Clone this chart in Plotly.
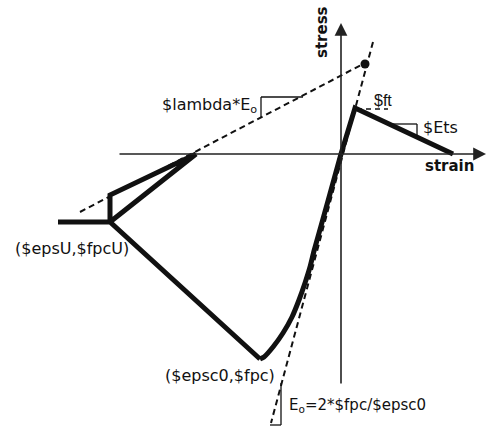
import plotly.graph_objects as go

# Diagram units: strain to the right, stress upward, origin at axes crossing
# Compression envelope: residual plateau -> (epsU,fpcU) -> (epsc0,fpc)
env_strain = [-283, -231, -81]
env_stress = [-68, -68, -205]
# Rise from (epsc0,fpc) back to origin
par_strain = [-81, -77, -68, -58, -49, -42, -36, -31, -27, -13, 0]
par_stress = [-205, -203, -193, -179, -163, -146, -129, -113, -97, -47, 0]
# Tension branch: origin -> ft peak -> zero stress
ten_strain = [0, 14, 112]
ten_stress = [0, 46, 0]
# Unloading / reloading from (epsU,fpcU)
unl_strain = [-145, -231, -231, -145]
unl_stress = [0, -68, -41, 0]
# Dashed reference lines
lam_strain = [-261, 24]
lam_stress = [-58, 91]
e0_strain = [32, -70]
e0_stress = [112, -269]
dot_strain = [24]
dot_stress = [90]

FONT = "DejaVu Sans"
BLK = "#111111"

fig = go.Figure()
dash = "6px,4px"
fig.add_trace(go.Scatter(x=lam_strain, y=lam_stress, mode="lines",
                         line=dict(color=BLK, width=2, dash=dash)))
fig.add_trace(go.Scatter(x=e0_strain, y=e0_stress, mode="lines",
                         line=dict(color=BLK, width=2, dash=dash)))
fig.add_trace(go.Scatter(x=env_strain, y=env_stress, mode="lines",
                         line=dict(color=BLK, width=5)))
fig.add_trace(go.Scatter(x=par_strain, y=par_stress, mode="lines",
                         line=dict(color=BLK, width=5, shape="spline", smoothing=0.5)))
fig.add_trace(go.Scatter(x=ten_strain, y=ten_stress, mode="lines",
                         line=dict(color=BLK, width=5)))
fig.add_trace(go.Scatter(x=unl_strain, y=unl_stress, mode="lines",
                         line=dict(color=BLK, width=5)))
fig.add_trace(go.Scatter(x=dot_strain, y=dot_stress, mode="markers",
                         marker=dict(color=BLK, size=9)))

# axes with arrows
fig.add_annotation(x=145, y=0, ax=-223, ay=0, xref="x", yref="y", axref="x", ayref="y",
                   showarrow=True, arrowhead=2, arrowsize=1.6, arrowwidth=1.6,
                   arrowcolor="#222222", text="")
fig.add_annotation(x=0, y=131, ax=0, ay=-231, xref="x", yref="y", axref="x", ayref="y",
                   showarrow=True, arrowhead=2, arrowsize=1.6, arrowwidth=1.6,
                   arrowcolor="#222222", text="")

# slope triangles and guide marks
thin = dict(color=BLK, width=1.3)
fig.add_shape(type="line", x0=-80, y0=36, x1=-80, y1=57, line=thin)
fig.add_shape(type="line", x0=-80, y0=57, x1=-38, y1=57, line=thin)
fig.add_shape(type="line", x0=47, y0=30, x1=76, y1=30, line=thin)
fig.add_shape(type="line", x0=76, y0=30, x1=76, y1=17, line=thin)
fig.add_shape(type="line", x0=-60, y0=-229, x1=-60, y1=-271, line=thin)
fig.add_shape(type="line", x0=-71, y0=-271, x1=-60, y1=-271, line=thin)
fig.add_shape(type="line", x0=16, y0=45, x1=47, y1=45, line=dict(color=BLK, width=1.3, dash="5px,4px"))

def txt(x, y, s, xa="center", size=16, bold=False, angle=0, family=FONT):
    fig.add_annotation(x=x, y=y, text=f"<b>{s}</b>" if bold else s, showarrow=False,
                       xanchor=xa, yanchor="middle", textangle=angle,
                       font=dict(family=family, size=size, color=BLK))

txt(-82, 49, "$lambda*E<sub>o</sub>", xa="right")
txt(31, 54, "$ft", xa="left", size=16, family="Liberation Sans")
txt(80, 27, "$Ets", xa="left")
txt(-269, -94, "($epsU,$fpcU)")
txt(-121, -221, "($epsc0,$fpc)")
txt(-54, -251, "E<sub>o</sub>=2*$fpc/$epsc0", xa="left", size=15)
txt(-19, 122, "stress", bold=True, size=15, angle=-90)
txt(108, -12, "strain", bold=True, size=15)

fig.update_layout(width=487, height=427, margin=dict(l=0, r=0, t=0, b=0),
                  paper_bgcolor="white", plot_bgcolor="white", showlegend=False)
fig.update_xaxes(range=[-341, 146], visible=False)
fig.update_yaxes(range=[-273, 154], visible=False)
fig.write_html("out.html", config={"displayModeBar": False},
               post_script="document.body.style.margin='0';document.body.style.overflow='hidden';")
